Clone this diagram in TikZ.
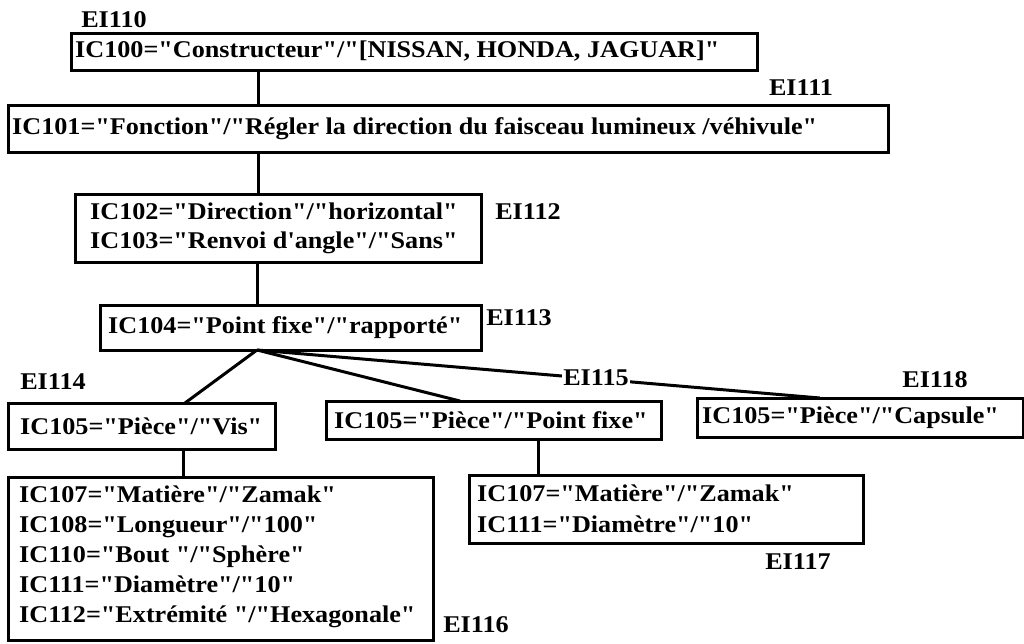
\documentclass[tikz,border=0pt]{standalone}
\usepackage{fontspec}
\setmainfont{Liberation Serif}[FakeStretch=1.09, Ligatures=TeXOff]
\begin{document}
\begin{tikzpicture}[x=1pt,y=-1pt,
  box/.style={draw, line width=3pt, outer sep=0pt, anchor=north west, inner sep=0pt},
  txt/.style={anchor=west, align=left, inner sep=0pt, font=\bfseries\fontsize{24}{29}\selectfont},
  lbl/.style={font=\bfseries\fontsize{24}{29}\selectfont, inner sep=1pt},
  link/.style={line width=3pt}]
\useasboundingbox (0,0) rectangle (1024,643);
% boxes
\node[box, minimum width=686pt, minimum height=37pt] (b0) at (71,33) {};
\node[box, minimum width=880pt, minimum height=47pt] (b1) at (8,105) {};
\node[box, minimum width=406pt, minimum height=68pt] (b2) at (75,194) {};
\node[box, minimum width=381pt, minimum height=45pt] (b3) at (100,305) {};
\node[box, minimum width=267pt, minimum height=46pt] (b4) at (8,403) {};
\node[box, minimum width=335pt, minimum height=38pt] (b5) at (326,401) {};
\node[box, minimum width=326pt, minimum height=39pt] (b6) at (697,398) {};
\node[box, minimum width=425pt, minimum height=163pt] (b7) at (8,477) {};
\node[box, minimum width=394pt, minimum height=68pt] (b8) at (469,475) {};
% texts
\node[txt] (t0) at ([xshift=4pt]b0.west) {IC100="Constructeur"/"[NISSAN, HONDA, JAGUAR]"};
\node[txt] (t1) at ([xshift=4pt]b1.west) {IC101="Fonction"/"Régler la direction du faisceau lumineux /véhivule"};
\node[txt] (t2) at ([xshift=15pt]b2.west) {IC102="Direction"/"horizontal"\\IC103="Renvoi d'angle"/"Sans"};
\node[txt] (t3) at ([xshift=8pt]b3.west) {IC104="Point fixe"/"rapporté"};
\node[txt] (t4) at ([xshift=12pt]b4.west) {IC105="Pièce"/"Vis"};
\node[txt] (t5) at ([xshift=8pt]b5.west) {IC105="Pièce"/"Point fixe"};
\node[txt] (t6) at ([xshift=5pt]b6.west) {IC105="Pièce"/"Capsule"};
\node[txt, font=\bfseries\fontsize{24}{30}\selectfont] (t7) at ([xshift=11pt,yshift=1.5pt]b7.west) {IC107="Matière"/"Zamak"\\IC108="Longueur"/"100"\\IC110="Bout "/"Sphère"\\IC111="Diamètre"/"10"\\IC112="Extrémité "/"Hexagonale"};
\node[txt, font=\bfseries\fontsize{24}{31}\selectfont] (t8) at ([xshift=8pt]b8.west) {IC107="Matière"/"Zamak"\\IC111="Diamètre"/"10"};
% connectors
\draw[link] (258,0 |- b0.south) -- (258,0 |- b1.north);
\draw[link] (258,0 |- b1.south) -- (258,0 |- b2.north);
\draw[link] (257,0 |- b2.south) -- (257,0 |- b3.north);
\draw[link] (257,0 |- b3.south) -- (185,0 |- b4.north);
\draw[link] (257,0 |- b3.south) -- (460,0 |- b5.north);
\draw[link] (257,0 |- b3.south) -- (820,0 |- b6.north);
\draw[link] (183,0 |- b4.south) -- (183,0 |- b7.north);
\draw[link] (538,0 |- b5.south) -- (538,0 |- b8.north);
% labels
\node[lbl] (l110) at (114,20) {EI110};
\node[lbl] (l111) at (801,88) {EI111};
\node[lbl] (l112) at (528,212) {EI112};
\node[lbl] (l113) at (519,318) {EI113};
\node[lbl] (l114) at (53,382) {EI114};
\node[lbl, fill=white] (l115) at (596,378) {EI115};
\node[lbl] (l118) at (935,380) {EI118};
\node[lbl] (l116) at (476,625) {EI116};
\node[lbl] (l117) at (798,562) {EI117};
\end{tikzpicture}
\end{document}
